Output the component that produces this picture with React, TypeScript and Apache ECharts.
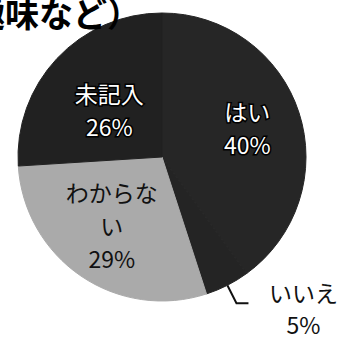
import React, { useEffect, useRef } from "react";
import * as echarts from "echarts";

const categories = ["はい", "いいえ", "わからない", "未記入"];
const values = [40, 5, 29, 26];
const labelNames = ["はい", "いいえ", "わからな\nい", "未記入"];
const titleText = "趣味など）";

const sliceColors = ["#262626", "#242424", "#aaaaaa", "#212121"];
const labelColors = ["#ffffff", "#111111", "#111111", "#ffffff"];
const labelOffsets = [[14, -6], [0, 0], [-8, 6], [2, 4]];

export default function App() {
  const ref = useRef<HTMLDivElement>(null);
  useEffect(() => {
    if (!ref.current) return;
    const chart = echarts.init(ref.current, undefined, { renderer: "svg" });
    const font = '"Noto Sans CJK JP", "Noto Sans", sans-serif';
    const data = categories.map((name, i) => {
      const isOutside = i === 1;
      const item: any = {
        name,
        value: values[i],
        itemStyle: { color: sliceColors[i], borderColor: sliceColors[i], borderWidth: 1 },
      };
      if (isOutside) {
        item.label = {
          show: true,
          position: "outside",
          formatter: () => `{a|${labelNames[i]}}\n{a|${values[i]}%}`,
          color: labelColors[i],
          rich: {
            a: {
              width: 72,
              align: "center",
              fontSize: 23,
              lineHeight: 32,
              fontFamily: font,
              color: "#111",
            },
          },
          padding: [10, 0, 0, 14],
        };
        item.labelLine = {
          show: true,
          length: 20,
          length2: 12,
          lineStyle: { color: "#111", width: 2 },
        };
      } else {
        item.label = {
          show: true,
          position: "inside",
          formatter: () => `${labelNames[i]}\n${values[i]}%`,
          color: labelColors[i],
          fontSize: 23,
          lineHeight: 33,
          fontFamily: font,
          align: "center",
          textBorderColor: labelColors[i] === "#ffffff" ? "#000" : "transparent",
          textBorderWidth: labelColors[i] === "#ffffff" ? 3 : 0,
          offset: labelOffsets[i],
        };
        item.labelLine = { show: false };
      }
      return item;
    });
    chart.setOption({
      animation: false,
      backgroundColor: "#ffffff",
      graphic: [
        {
          type: "text",
          left: -29,
          top: -5,
          style: {
            text: titleText,
            fontSize: 34,
            fontWeight: "bold",
            fontFamily: font,
            fill: "#000",
          },
          z: 10,
        },
      ],
      series: [
        {
          type: "pie",
          center: [162, 157],
          radius: 144,
          startAngle: 90,
          clockwise: true,
          avoidLabelOverlap: false,
          data,
          emphasis: { disabled: true },
        },
      ],
    });
    return () => chart.dispose();
  }, []);
  return (
    <div
      ref={ref}
      style={{ position: "fixed", left: 0, top: 0, width: 349, height: 340 }}
    />
  );
}
